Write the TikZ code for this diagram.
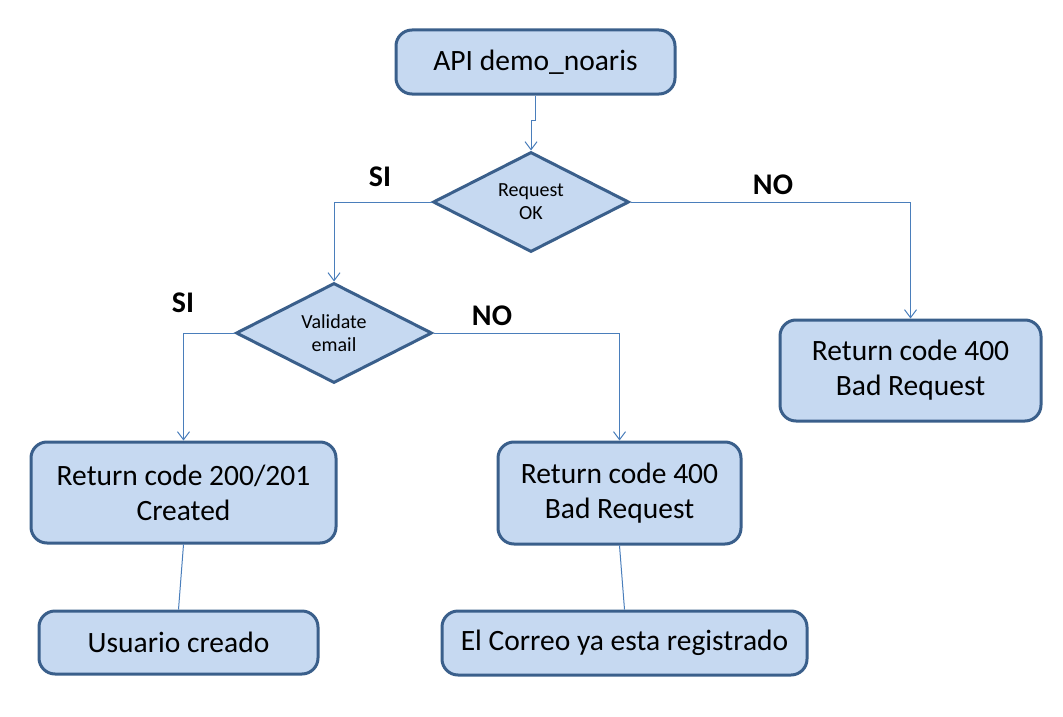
\documentclass[tikz,border=0pt]{standalone}
\usepackage{fontspec}
\setmainfont{Carlito}
\usetikzlibrary{shapes.geometric,arrows.meta}
\definecolor{boxfill}{HTML}{C6D9F1}
\definecolor{boxline}{HTML}{3A5F8B}
\definecolor{wireblue}{HTML}{4A7EBB}
\newcommand{\branch}[2]{\draw[wire] (#1) -| (#2);}
\newcommand{\link}[2]{\draw[wire,-] (#1) -- (#2);}

\begin{document}
\begin{tikzpicture}[x=1pt,y=-1pt,
  every node/.style={font=\fontsize{29.5}{35}\selectfont},
  box/.style={draw=boxline,fill=boxfill,line width=3pt,rounded corners=16pt,align=center,inner sep=0pt},
  test/.style={diamond,aspect=2,draw=boxline,fill=boxfill,line width=3pt,align=center,inner sep=0pt,
    minimum width=196pt,minimum height=100pt,font=\fontsize{20}{23}\selectfont},
  wire/.style={draw=wireblue,line width=1pt,-{Straight Barb[length=8pt,width=12pt]}},
  lbl/.style={font=\fontsize{30}{30}\selectfont\bfseries}]
  \useasboundingbox (0,0) rectangle (1063,717);
  \node[box,minimum width=279pt,minimum height=64pt] (api) at (535.5,62) {API demo\_noaris};
  \node[test] (req) at (531,202) {Request\\OK};
  \node[test] (val) at (334,333) {Validate\\email};
  \node[box,minimum width=261pt,minimum height=101pt] (bad1) at (910.5,370.5) {Return code 400\\Bad Request};
  \node[box,minimum width=305pt,minimum height=101pt] (ok) at (183.5,492.5) {Return code 200/201\\Created};
  \node[box,minimum width=243pt,minimum height=102pt] (bad2) at (619.5,493) {Return code 400\\Bad Request};
  \node[box,minimum width=279pt,minimum height=63pt] (user) at (178.5,642.5) {Usuario creado};
  \node[box,minimum width=365pt,minimum height=64pt] (mail) at (624.5,643) {El Correo ya esta registrado};
  \node[lbl] (si1) at (380,177) {SI};
  \node[lbl] (no1) at (773,185) {NO};
  \node[lbl] (si2) at (183,303) {SI};
  \node[lbl] (no2) at (492,316) {NO};
  \draw[wire] (api.south) -- ++(0,25) -| (req.north);
  \branch{req.west}{val.north}
  \branch{req.east}{bad1.north}
  \branch{val.west}{ok.north}
  \branch{val.east}{bad2.north}
  \link{ok.south}{user.north}
  \link{bad2.south}{mail.north}
\end{tikzpicture}
\end{document}
